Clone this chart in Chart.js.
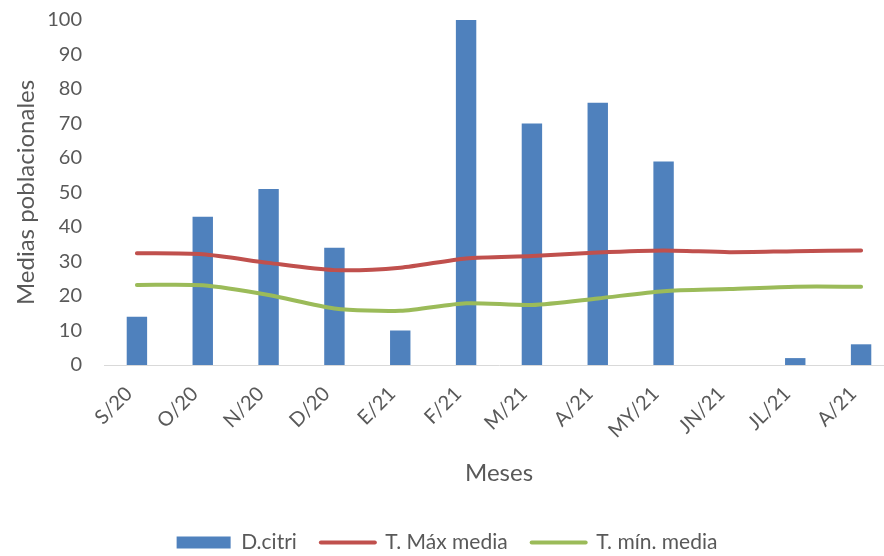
<!DOCTYPE html>
<html lang="es">
<head>
<meta charset="utf-8">
<title>Medias poblacionales</title>
<script src="https://cdn.jsdelivr.net/npm/chart.js@4.4.1/dist/chart.umd.min.js"></script>
<style>
  html, body { margin: 0; padding: 0; background: #fff; overflow: hidden; }
  #chart { display: block; }
</style>
</head>
<body>
<canvas id="chart" width="896" height="556"></canvas>
<script>
// ---------- DATA ----------
const meses = ["S/20", "O/20", "N/20", "D/20", "E/21", "F/21", "M/21", "A/21", "MY/21", "JN/21", "JL/21", "A/21"];
const dCitri = [14, 43, 51, 34, 10, 100, 70, 76, 59, 0, 2, 6];
const tMaxMedia = [32.4, 32.1, 29.6, 27.5, 28.2, 30.9, 31.6, 32.6, 33.2, 32.7, 33.0, 33.2];
const tMinMedia = [23.2, 23.1, 20.3, 16.4, 15.7, 17.9, 17.4, 19.3, 21.4, 22.0, 22.7, 22.7];
const yTicks = [0, 10, 20, 30, 40, 50, 60, 70, 80, 90, 100];

const seriesNames = ["D.citri", "T. Máx media", "T. mín. media"];
const seriesColors = ["#4f81bd", "#c0504d", "#9bbb59"];

const TEXT = "#595959";
const FONT = "Lato, 'Open Sans', sans-serif";
const CANVAS_H = 556;
const PLOT_TOP = 20;
const PLOT_BOTTOM = 365;
const PAD_BOTTOM = -7;

const ctx = document.getElementById("chart");

new Chart(ctx, {
  data: {
    labels: meses,
    datasets: [
      {
        type: "bar",
        label: seriesNames[0],
        data: dCitri,
        backgroundColor: seriesColors[0],
        borderWidth: 0,
        categoryPercentage: 1,
        barPercentage: 0.31,
        order: 2,
      },
      {
        type: "line",
        label: seriesNames[1],
        data: tMaxMedia,
        borderColor: seriesColors[1],
        borderWidth: 4,
        borderCapStyle: "round",
        borderJoinStyle: "round",
        tension: 0.25,
        pointRadius: 0,
        fill: false,
        order: 1,
      },
      {
        type: "line",
        label: seriesNames[2],
        data: tMinMedia,
        borderColor: seriesColors[2],
        borderWidth: 4,
        borderCapStyle: "round",
        borderJoinStyle: "round",
        tension: 0.25,
        pointRadius: 0,
        fill: false,
        order: 0,
      },
    ],
  },
  options: {
    responsive: false,
    animation: false,
    layout: { padding: { top: PLOT_TOP, right: 2, bottom: PAD_BOTTOM, left: 0 } },
    plugins: {
      tooltip: { enabled: false },
      legend: {
        position: "bottom",
        labels: {
          color: TEXT,
          font: { family: FONT, size: 21 },
          usePointStyle: true,
          pointStyleWidth: 54,
          boxHeight: 12,
          padding: 24,
          // keep the legend in dataset order (bar first)
          generateLabels: () =>
            seriesNames.map((name, i) => ({
              text: name,
              datasetIndex: i,
              fillStyle: seriesColors[i],
              strokeStyle: seriesColors[i],
              lineWidth: i === 0 ? 0 : 4,
              lineCap: "round",
              pointStyle: i === 0 ? "rect" : "line",
              fontColor: TEXT,
              hidden: false,
            })),
        },
      },
    },
    scales: {
      x: {
        grid: { display: false, drawTicks: false },
        border: { display: true, color: "#d9d9d9", width: 1 },
        ticks: {
          color: TEXT,
          font: { family: FONT, size: 20 },
          minRotation: 45,
          maxRotation: 45,
          padding: 17,
          labelOffset: -8,
          autoSkip: false,
        },
        title: {
          display: true,
          text: "Meses",
          color: TEXT,
          font: { family: FONT, size: 24 },
          padding: { top: 0, bottom: 20 },
        },
        afterFit: (scale) => {
          // pin the bottom of the plot area
          const legendH = scale.chart.legend ? scale.chart.legend.height : 0;
          scale.height = CANVAS_H - PLOT_BOTTOM - legendH - PAD_BOTTOM;
        },
      },
      y: {
        min: 0,
        max: 100,
        afterBuildTicks: (scale) => {
          scale.ticks = yTicks.map((v) => ({ value: v }));
        },
        grid: { display: false, drawTicks: false, tickLength: 0 },
        border: { display: false },
        ticks: {
          color: TEXT,
          font: { family: FONT, size: 20 },
          padding: 22,
        },
        title: {
          display: true,
          text: "Medias poblacionales",
          color: TEXT,
          font: { family: FONT, size: 24 },
          padding: { top: 12, bottom: 0 },
        },
        afterFit: (scale) => {
          scale.width = 104;
          // tick padding should not push the plot area down
          scale.paddingTop = 0;
          scale.paddingBottom = 0;
        },
      },
    },
  },
});
</script>
</body>
</html>
